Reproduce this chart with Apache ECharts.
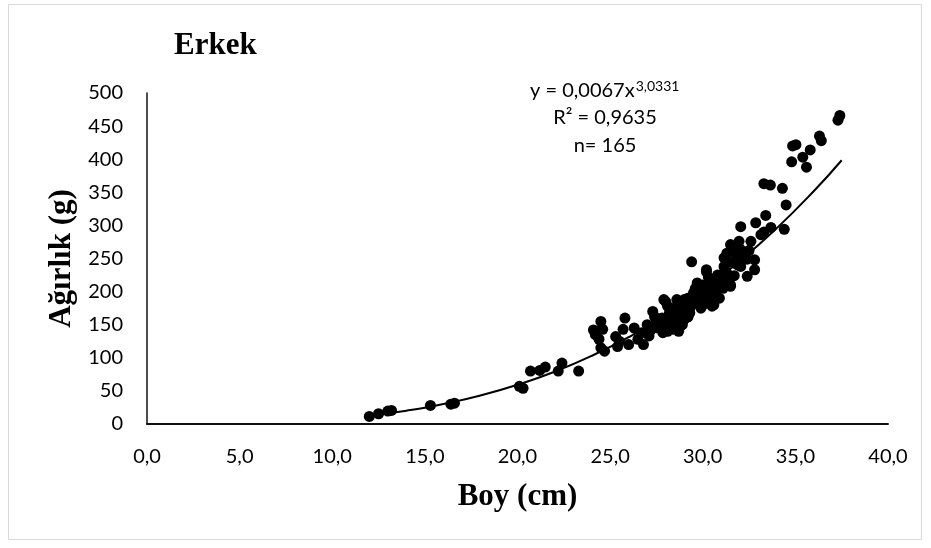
<!DOCTYPE html>
<html>
<head>
<meta charset="utf-8">
<script src="https://cdn.jsdelivr.net/npm/echarts@6/dist/echarts.min.js"></script>
<style>
html,body{margin:0;padding:0;background:#fff;}
#chart{width:931px;height:548px;}
</style>
</head>
<body>
<div id="chart"></div>
<script>
const boy = [
 12.0,12.5,13.0,13.2,15.3,16.4,16.6,20.1,20.3,20.7,21.2,21.5,22.2,22.4,23.3,
 24.1,24.2,24.5,24.6,24.4,24.5,24.7,25.3,25.4,25.7,25.8,26.0,26.3,26.5,26.8,27.0,27.2,27.3,27.5,27.7,25.5,24.3,26.7,27.1,27.4,
 27.9,28.0,28.1,28.2,27.9,28.45,28.6,28.1,28.4,28.5,28.3,28.7,28.8,28.9,29.0,29.2,28.95,29.1,28.6,28.9,29.2,29.3,29.5,29.4,27.8,28.0,28.2,28.6,28.8,29.0,29.3,27.6,27.85,28.35,28.7,29.4,
 29.6,29.7,29.9,30.0,30.2,30.1,30.4,30.6,30.9,30.9,31.3,31.5,29.5,29.8,30.25,30.6,30.4,30.1,29.6,29.35,29.1,30.5,29.2,30.0,30.8,31.15,30.6,30.4,31.5,30.2,29.9,30.3,30.7,30.9,31.1,29.7,30.0,31.0,
 31.15,31.3,31.5,31.8,31.96,32.15,32.4,32.6,32.8,32.8,32.4,32.05,31.7,31.15,31.3,31.7,32.05,32.86,33.14,33.3,33.4,33.68,31.6,32.0,31.4,32.3,31.9,31.2,32.5,
 33.3,33.65,34.3,34.5,34.4,34.8,34.85,35.03,35.4,35.6,35.8,36.3,36.4,37.3,37.4,
 28.5,29.0,29.9,30.3,31.4,27.4,28.2
];
const agirlik = [
 11.5,15.5,19.5,20.5,28,30,31.5,57,54,80,81,86,80,92,80,
 142,135,155,143,128,115,110,132,117,143,160,120,145,128,120,150,142,170,153,155,125,140,138,133,146,
 188,185,178,158,148,168,188,140,143,152,162,160,173,162,188,190,170,165,145,150,162,175,182,245,160,150,146,178,148,158,168,145,138,155,140,185,
 205,213,208,188,230,200,213,180,223,208,213,208,198,198,200,193,185,190,183,180,173,178,162,210,225,215,218,210,210,233,175,195,200,190,205,190,180,218,
 251,258,271,256,276,253,249,276,248,233,223,238,243,238,228,224,298,304,286,290,315,297,262,265,245,260,240,232,262,
 363,361,356,331,294,396,420,422,403,388,414,435,428,459,466,
 170,180,195,222,220,162,168
];
// Power trendline as drawn in the picture (y = 0,0067x^3,0331)
const trendBoy = [12,13,14,15,16,18,20,22,24,26,28,30,32,34,36,37.5];
const trendAgirlik = [12.6,16.0,20.1,24.7,30.1,43.0,59.2,79.0,102.9,131.2,164.2,202.5,246.2,295.9,351.9,398.4];
const xTickLabels = ['0,0','5,0','10,0','15,0','20,0','25,0','30,0','35,0','40,0'];
const yTickLabels = ['0','50','100','150','200','250','300','350','400','450','500'];
const titleText = 'Erkek';
const xName = 'Boy (cm)';
const yName = 'Ağırlık (g)';
const eqMain = 'y = 0,0067x';
const eqSup = '3,0331';
const r2Text = 'R² = 0,9635';
const nText = 'n= 165';

const scatterData = boy.map((b, i) => [b, agirlik[i]]);
const trendData = trendBoy.map((b, i) => [b, trendAgirlik[i]]);

const chart = echarts.init(document.getElementById('chart'), null, {renderer: 'canvas'});
const tickFont = 'Lato';
const option = {
  backgroundColor: '#ffffff',
  animation: false,
  title: {
    text: titleText,
    left: 169,
    top: 25,
    textStyle: {fontFamily: 'Liberation Serif', fontWeight: 'bold', fontSize: 31, color: '#000'}
  },
  grid: {left: 147, right: 43, top: 93, bottom: 124, containLabel: false},
  xAxis: {
    type: 'value', min: 0, max: 40, interval: 5,
    name: xName, nameLocation: 'middle', nameGap: 57,
    nameTextStyle: {fontFamily: 'Liberation Serif', fontWeight: 'bold', fontSize: 31, color: '#000'},
    axisLine: {show: true, onZero: false, lineStyle: {color: '#111', width: 2}},
    axisTick: {show: false},
    splitLine: {show: false},
    axisLabel: {
      margin: 23, fontFamily: tickFont, fontSize: 20, color: '#000',
      formatter: v => xTickLabels[Math.round(v / 5)]
    }
  },
  yAxis: {
    type: 'value', min: 0, max: 500, interval: 50,
    name: yName, nameLocation: 'middle', nameGap: 66, nameRotate: 90,
    nameTextStyle: {fontFamily: 'Liberation Serif', fontWeight: 'bold', fontSize: 31, color: '#000'},
    axisLine: {show: true, onZero: false, lineStyle: {color: '#111', width: 1.5}},
    axisTick: {show: false},
    splitLine: {show: false},
    axisLabel: {
      margin: 24, fontFamily: tickFont, fontSize: 20, color: '#000',
      formatter: v => yTickLabels[Math.round(v / 50)]
    }
  },
  graphic: [
    {type: 'rect', silent: true, z: -10, shape: {x: 8.5, y: 4.5, width: 913, height: 535},
     style: {fill: 'none', stroke: '#d9d9d9', lineWidth: 1}},
    {type: 'text', left: 530, top: 79, style: {
      text: '{m|' + eqMain + '}{s|' + eqSup + '}',
      rich: {
        m: {fontFamily: tickFont, fontSize: 20, fill: '#000'},
        s: {fontFamily: tickFont, fontSize: 14, fill: '#000', padding: [0, 0, 10, 1]}
      }
    }},
    {type: 'text', x: 605, y: 118, style: {text: r2Text, fontFamily: tickFont, fontSize: 20, fill: '#000', align: 'center', verticalAlign: 'middle'}},
    {type: 'text', x: 605, y: 146, style: {text: nText, fontFamily: tickFont, fontSize: 20, fill: '#000', align: 'center', verticalAlign: 'middle'}}
  ],
  series: [
    {
      type: 'scatter', data: scatterData, symbol: 'circle', symbolSize: 11,
      itemStyle: {color: '#000', opacity: 1}, z: 3
    },
    {
      type: 'line', data: trendData, smooth: true, showSymbol: false, symbol: 'none',
      lineStyle: {color: '#000', width: 2}, z: 2
    }
  ]
};
chart.setOption(option);
</script>
</body>
</html>
